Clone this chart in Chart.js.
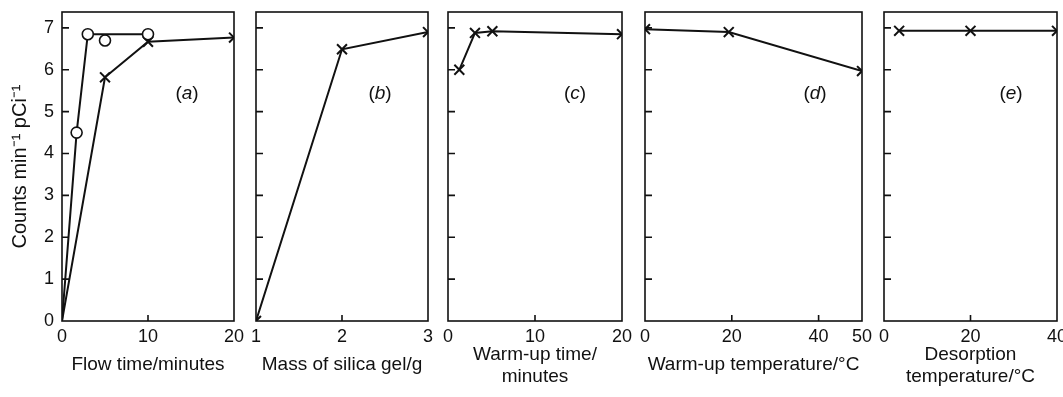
<!DOCTYPE html>
<html lang="en">
<head>
<meta charset="UTF-8">
<title>Counts vs conditions</title>
<script src="https://cdn.jsdelivr.net/npm/chart.js"></script>
<style>
  body { margin: 0; width: 1063px; height: 397px; overflow: hidden; background: #fff; position: relative;
         font-family: "Liberation Sans", Arial, sans-serif; color: #111; }
  canvas { position: absolute; top: 0; }
  .tag { position: absolute; font-size: 19px; transform: translate(-50%, -50%); white-space: nowrap; }
</style>
</head>
<body>
<canvas id="chartA" width="248" height="397" style="left:0px"></canvas>
<canvas id="chartB" width="200" height="397" style="left:242px"></canvas>
<canvas id="chartC" width="202" height="397" style="left:434px"></canvas>
<canvas id="chartD" width="245" height="397" style="left:631px"></canvas>
<canvas id="chartE" width="201" height="397" style="left:870px"></canvas>

<div class="tag" style="left:187px;top:93px">(<i>a</i>)</div>
<div class="tag" style="left:380px;top:93px">(<i>b</i>)</div>
<div class="tag" style="left:575px;top:93px">(<i>c</i>)</div>
<div class="tag" style="left:815px;top:93px">(<i>d</i>)</div>
<div class="tag" style="left:1011px;top:93px">(<i>e</i>)</div>

<script>
const ink = '#111';
const yTicks = [0, 1, 2, 3, 4, 5, 6, 7];

// (a) flow time
const flowCircX = [0, 1.7, 3, 10];
const flowCircY = [0, 4.5, 6.85, 6.85];
const flowOddX = [5];
const flowOddY = [6.7];
const flowCrossX = [0, 5, 10, 20];
const flowCrossY = [0, 5.82, 6.67, 6.77];
const flowTicks = [0, 10, 20];

// (b) mass of silica gel
const massX = [1, 2, 3];
const massY = [0, 6.49, 6.9];
const massTicks = [1, 2, 3];

// (c) warm-up time
const warmTimeX = [1.3, 3.1, 5.1, 20];
const warmTimeY = [6.0, 6.88, 6.92, 6.85];
const warmTimeTicks = [0, 10, 20];

// (d) warm-up temperature
const warmTempX = [0, 19.3, 50];
const warmTempY = [6.97, 6.9, 5.97];
const warmTempTicks = [0, 20, 40, 50];

// (e) desorption temperature
const desorbX = [3.5, 20, 40];
const desorbY = [6.93, 6.93, 6.93];
const desorbTicks = [0, 20, 40];

function pts(xs, ys) {
    return xs.map(function (x, i) { return { x: x, y: ys[i] }; });
}

// box round the plot + small ticks pointing inwards
const frame = {
    id: 'frame',
    afterDraw(chart) {
        const ctx = chart.ctx, a = chart.chartArea;
        const xs = chart.scales.x, ys = chart.scales.y;
        ctx.save();
        ctx.strokeStyle = ink;
        ctx.lineWidth = 1.6;
        ctx.strokeRect(a.left, a.top, a.right - a.left, a.bottom - a.top);
        ctx.beginPath();
        yTicks.slice(1).forEach(function (v) {
            const p = ys.getPixelForValue(v);
            ctx.moveTo(a.left, p);
            ctx.lineTo(a.left + 7, p);
        });
        (chart.options.innerX || []).forEach(function (v) {
            const p = xs.getPixelForValue(v);
            ctx.moveTo(p, a.bottom);
            ctx.lineTo(p, a.bottom - 6);
        });
        ctx.stroke();
        ctx.restore();
    }
};

function crossSet(data) {
    return {
        data: data,
        borderColor: ink,
        borderWidth: 2,
        pointStyle: 'crossRot',
        pointRadius: 7,
        pointBorderColor: ink,
        pointBorderWidth: 2,
        tension: 0,
        fill: false
    };
}

function makePanel(id, o) {
    new Chart(document.getElementById(id), {
        type: 'line',
        data: { datasets: o.datasets },
        options: {
            responsive: false,
            animation: false,
            devicePixelRatio: 1,
            innerX: o.innerX,
            layout: { padding: { top: 12, right: 14, left: o.yAxis ? 0 : 14, bottom: 0 } },
            plugins: { legend: { display: false }, tooltip: { enabled: false } },
            scales: {
                x: {
                    type: 'linear',
                    min: o.min,
                    max: o.max,
                    afterBuildTicks: function (s) { s.ticks = o.ticks.map(function (v) { return { value: v }; }); },
                    afterFit: function (s) { s.height = 76; s.paddingLeft = 0; s.paddingRight = 0; },
                    grid: { display: false, drawTicks: false, tickLength: 0 },
                    border: { display: false },
                    ticks: { color: ink, font: { size: 18, family: 'Liberation Sans' }, padding: 5, maxRotation: 0 },
                    title: {
                        display: true,
                        text: o.title,
                        color: ink,
                        font: { size: 19, family: 'Liberation Sans', lineHeight: 1.2 },
                        padding: { top: 0, bottom: o.title.length > 1 ? 8.5 : 21 }
                    }
                },
                y: {
                    display: o.yAxis,
                    min: 0,
                    max: 7.38,
                    afterBuildTicks: function (s) { s.ticks = yTicks.map(function (v) { return { value: v }; }); },
                    afterFit: function (s) { s.width = o.yAxis ? 62 : 0; s.paddingTop = 0; s.paddingBottom = 0; },
                    grid: { display: false, drawTicks: false, tickLength: 0 },
                    border: { display: false },
                    ticks: { color: ink, font: { size: 18, family: 'Liberation Sans' }, padding: 8 },
                    title: {
                        display: true,
                        text: 'Counts min⁻¹ pCi⁻¹',
                        color: ink,
                        font: { size: 20, family: 'Liberation Sans', lineHeight: 1.2 },
                        padding: { top: 8, bottom: 0 }
                    }
                }
            }
        },
        plugins: [frame]
    });
}

makePanel('chartA', {
    yAxis: true, min: 0, max: 20, ticks: flowTicks, innerX: [10], title: ['Flow time/minutes'],
    datasets: [
        {
            data: pts(flowCircX, flowCircY),
            borderColor: ink, borderWidth: 2, tension: 0, fill: false,
            pointStyle: 'circle', pointRadius: [0, 5.5, 5.5, 5.5],
            pointBackgroundColor: '#fff', pointBorderColor: ink, pointBorderWidth: 1.6
        },
        {
            data: pts(flowOddX, flowOddY),
            showLine: false,
            pointStyle: 'circle', pointRadius: 5.5,
            pointBackgroundColor: '#fff', pointBorderColor: ink, pointBorderWidth: 1.6
        },
        Object.assign(crossSet(pts(flowCrossX, flowCrossY)), { pointRadius: [0, 7, 7, 7] })
    ]
});

makePanel('chartB', {
    yAxis: false, min: 1, max: 3, ticks: massTicks, innerX: [2], title: ['Mass of silica gel/g'],
    datasets: [crossSet(pts(massX, massY))]
});

makePanel('chartC', {
    yAxis: false, min: 0, max: 20, ticks: warmTimeTicks, innerX: [10], title: ['Warm-up time/', 'minutes'],
    datasets: [crossSet(pts(warmTimeX, warmTimeY))]
});

makePanel('chartD', {
    yAxis: false, min: 0, max: 50, ticks: warmTempTicks, innerX: [20, 40], title: ['Warm-up temperature/°C'],
    datasets: [crossSet(pts(warmTempX, warmTempY))]
});

makePanel('chartE', {
    yAxis: false, min: 0, max: 40, ticks: desorbTicks, innerX: [20], title: ['Desorption', 'temperature/°C'],
    datasets: [crossSet(pts(desorbX, desorbY))]
});
</script>
</body>
</html>
